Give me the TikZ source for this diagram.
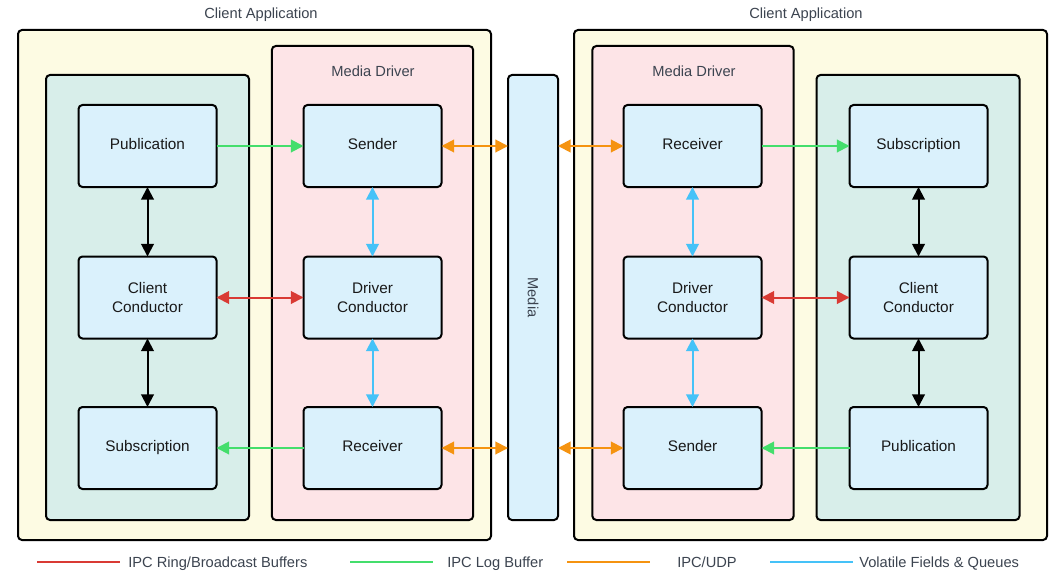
\documentclass[tikz,border=0pt]{standalone}
\usepackage{fontspec}
\setmainfont{Liberation Sans}
\usetikzlibrary{arrows.meta}
\definecolor{appfill}{HTML}{FDFBE3}
\definecolor{clientfill}{HTML}{D8EEEA}
\definecolor{driverfill}{HTML}{FDE4E7}
\definecolor{boxfill}{HTML}{DAF1FC}
\definecolor{ipcred}{HTML}{D93A34}
\definecolor{ipcgreen}{HTML}{44DE6C}
\definecolor{udporange}{HTML}{F59310}
\definecolor{volblue}{HTML}{45C2F8}
\definecolor{titlegray}{HTML}{3C4450}
\newcommand\eqht{\vphantom{Sp}}
\begin{document}
\begin{tikzpicture}[x=0.75pt,y=-0.75pt,
  panel/.style={draw=black,line width=1.5pt,rounded corners=3pt,inner sep=0pt,outer sep=0pt},
  app/.style={panel,fill=appfill,minimum width=354.75pt,minimum height=382.5pt},
  clientpanel/.style={panel,fill=clientfill,minimum width=152.25pt,minimum height=333.75pt},
  driverpanel/.style={panel,fill=driverfill,minimum width=151pt,minimum height=355.5pt},
  mediapanel/.style={panel,fill=boxfill,minimum width=37.5pt,minimum height=333.75pt},
  comp/.style={panel,fill=boxfill,minimum width=103.5pt,minimum height=61.5pt,align=center,font=\fontsize{11.5}{14}\selectfont,text=black!90},
  title/.style={font=\fontsize{11}{13}\selectfont,text=titlegray,inner sep=0pt},
  legendtext/.style={font=\fontsize{11}{13}\selectfont,text=titlegray,inner sep=0pt,anchor=base west},
  tipped/.style={line width=1.5pt,{Triangle[length=9.5pt,width=9.5pt]}-{Triangle[length=9.5pt,width=9.5pt]}},
  oneway/.style={line width=1.5pt,-{Triangle[length=9.5pt,width=9.5pt]}},
  legendline/.style={line width=2pt}
]
\fill[white] (0,0) rectangle (1063,581);
\useasboundingbox (0,0) rectangle (1063,581);

% outer application panels
\node[app] (appL) at (254.5,285) {};
\node[app] (appR) at (810.5,285) {};
\node[title] (appLt) at (261,15) {Client Application};
\node[title] (appRt) at (806,15) {Client Application};

% inner panels
\node[clientpanel] (clientL) at (147.5,297.5) {};
\node[driverpanel] (driverL) at (372.5,283) {};
\node[mediapanel] (media) at (533,297.5) {};
\node[driverpanel] (driverR) at (693,283) {};
\node[clientpanel] (clientR) at (918,297.5) {};
\node[title] (driverLt) at (373,71) {Media Driver};
\node[title] (driverRt) at (694,71) {Media Driver};
\node[title,rotate=-90] (mediat) at (533,297.5) {Media};

% left client components
\node[comp] (pubL) at (147.5,146) {\eqht Publication};
\node[comp] (ccL) at (147.5,297.5) {Client\\Conductor};
\node[comp] (subL) at (147.5,448) {\eqht Subscription};
% left driver components
\node[comp] (sendL) at (372.5,146) {\eqht Sender};
\node[comp] (dcL) at (372.5,297.5) {Driver\\Conductor};
\node[comp] (recvL) at (372.5,448) {\eqht Receiver};
% right driver components
\node[comp] (recvR) at (692.5,146) {\eqht Receiver};
\node[comp] (dcR) at (692.5,297.5) {Driver\\Conductor};
\node[comp] (sendR) at (692.5,448) {\eqht Sender};
% right client components
\node[comp] (subR) at (918.5,146) {\eqht Subscription};
\node[comp] (ccR) at (918.5,297.5) {Client\\Conductor};
\node[comp] (pubR) at (918.5,448) {\eqht Publication};

% vertical connectors
\draw[tipped,black] (pubL) -- (ccL);
\draw[tipped,black] (ccL) -- (subL);
\draw[tipped,volblue] (sendL) -- (dcL);
\draw[tipped,volblue] (dcL) -- (recvL);
\draw[tipped,volblue] (recvR) -- (dcR);
\draw[tipped,volblue] (dcR) -- (sendR);
\draw[tipped,black] (subR) -- (ccR);
\draw[tipped,black] (ccR) -- (pubR);

% horizontal connectors
\draw[oneway,ipcgreen] (pubL) -- (sendL);
\draw[tipped,ipcred] (ccL) -- (dcL);
\draw[oneway,ipcgreen] (recvL) -- (subL);
\draw[tipped,udporange] (sendL.east) -- (sendL.east -| media.west);
\draw[tipped,udporange] (recvL.east) -- (recvL.east -| media.west);
\draw[tipped,udporange] (recvR.west -| media.east) -- (recvR.west);
\draw[tipped,udporange] (sendR.west -| media.east) -- (sendR.west);
\draw[oneway,ipcgreen] (recvR) -- (subR);
\draw[tipped,ipcred] (dcR) -- (ccR);
\draw[oneway,ipcgreen] (pubR) -- (sendR);

% legend
\draw[legendline,ipcred] (37,562) -- (120,562);
\node[legendtext] (lg1) at (128,567) {IPC Ring/Broadcast Buffers};
\draw[legendline,ipcgreen] (350,562) -- (433,562);
\node[legendtext] (lg2) at (447,567) {IPC Log Buffer};
\draw[legendline,udporange] (567,562) -- (650,562);
\node[legendtext] (lg3) at (677,567) {IPC/UDP};
\draw[legendline,volblue] (770,562) -- (853,562);
\node[legendtext] (lg4) at (859,567) {Volatile Fields \& Queues};
\end{tikzpicture}
\end{document}
